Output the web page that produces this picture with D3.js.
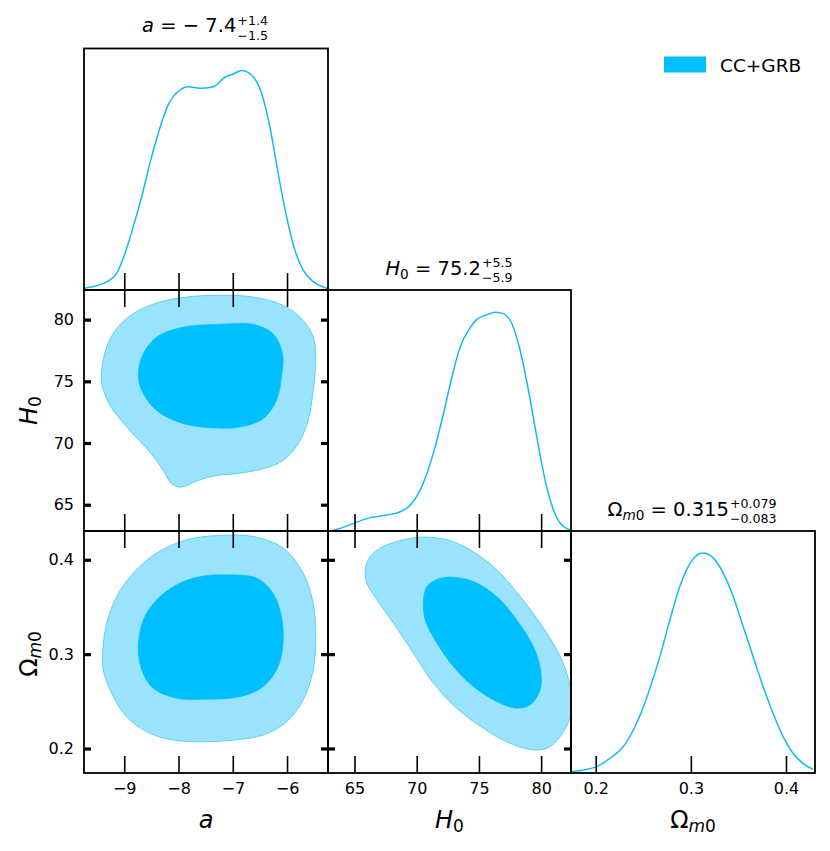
<!DOCTYPE html>
<html><head><meta charset="utf-8">
<script src="https://cdn.jsdelivr.net/npm/d3@7"></script>
<style>
body{margin:0;background:#fff}
svg{display:block}
text{font-family:"DejaVu Sans",sans-serif;fill:#000}
</style>
</head><body>
<svg id="c" width="830" height="851"></svg>
<script>
// ---------------- data ----------------
const seriesName = "CC+GRB";
const aTicks = [-9, -8, -7, -6];
const h0Ticks = [65, 70, 75, 80];
const omTicks = [0.2, 0.3, 0.4];

// 1D marginal of a
const aGrid = [-9.742,-9.387,-9.140,-8.987,-8.834,-8.679,-8.527,-8.374,-8.190,-7.974,-7.821,-7.606,-7.361,-7.145,-6.992,-6.838,-6.654,-6.470,-6.317,-6.164,-6.009,-5.856,-5.703,-5.519,-5.272,-5.245];
const aDens = [0.008,0.030,0.076,0.167,0.288,0.425,0.577,0.714,0.843,0.911,0.926,0.919,0.926,0.969,0.984,1.000,0.979,0.896,0.744,0.532,0.334,0.182,0.091,0.038,0.008,0.005];
// 1D marginal of H0
const h0Grid = [62.89,63.85,64.92,66.26,67.60,68.67,69.48,70.14,70.82,71.48,72.15,72.83,73.49,74.16,74.83,75.64,76.30,76.97,77.65,78.31,78.98,79.65,80.32,80.99,81.66,82.33];
const h0Dens = [0.000,0.012,0.035,0.061,0.073,0.088,0.118,0.172,0.263,0.384,0.536,0.703,0.840,0.916,0.966,0.987,0.999,0.992,0.946,0.825,0.642,0.430,0.232,0.096,0.027,0.005];
// 1D marginal of Omega_m0
const omGrid = [0.1748,0.1870,0.2010,0.2150,0.2290,0.2430,0.2552,0.2675,0.2780,0.2885,0.3007,0.3129,0.3234,0.3339,0.3444,0.3549,0.3654,0.3759,0.3864,0.3969,0.4073,0.4178,0.4283];
const omDens = [0.006,0.014,0.029,0.067,0.120,0.226,0.363,0.530,0.697,0.849,0.963,1.000,0.978,0.910,0.803,0.667,0.530,0.393,0.272,0.165,0.090,0.044,0.017];

// 2D contours: [x, y]
const haOuter = [[-9.416,75.89],[-9.324,77.78],[-9.140,79.27],[-8.834,80.49],[-8.403,81.35],[-7.851,81.83],[-7.238,81.97],[-6.624,81.83],[-6.072,81.16],[-5.703,79.94],[-5.519,78.59],[-5.470,76.97],[-5.519,74.27],[-5.611,71.83],[-5.796,69.94],[-6.072,68.59],[-6.440,67.92],[-6.869,67.56],[-7.298,67.37],[-7.606,67.02],[-7.851,66.56],[-7.974,66.42],[-8.127,66.70],[-8.282,67.78],[-8.527,69.26],[-8.895,71.02],[-9.263,73.05],[-9.416,74.81]];
const haInner = [[-8.742,75.62],[-8.650,77.24],[-8.403,78.59],[-7.913,79.40],[-7.298,79.62],[-6.624,79.62],[-6.256,78.86],[-6.083,77.24],[-6.101,75.34],[-6.193,73.45],[-6.440,71.97],[-6.869,71.29],[-7.298,71.21],[-7.913,71.57],[-8.403,72.64],[-8.680,74.27]];
const oaOuter = [[-9.398,0.3010],[-9.324,0.3328],[-9.140,0.3610],[-8.834,0.3859],[-8.403,0.4071],[-7.851,0.4212],[-7.238,0.4258],[-6.624,0.4247],[-6.072,0.4124],[-5.703,0.3859],[-5.519,0.3540],[-5.470,0.3186],[-5.519,0.2832],[-5.703,0.2514],[-6.009,0.2283],[-6.440,0.2142],[-6.993,0.2089],[-7.606,0.2071],[-8.098,0.2089],[-8.527,0.2160],[-8.956,0.2336],[-9.263,0.2620],[-9.387,0.2832]];
const oaInner = [[-8.742,0.3080],[-8.650,0.3363],[-8.403,0.3575],[-8.035,0.3735],[-7.606,0.3823],[-7.053,0.3841],[-6.562,0.3806],[-6.256,0.3646],[-6.101,0.3398],[-6.072,0.3116],[-6.164,0.2867],[-6.440,0.2655],[-6.869,0.2549],[-7.483,0.2521],[-8.035,0.2532],[-8.466,0.2638],[-8.680,0.2832]];
const ohOuter = [[65.86,0.3894],[66.26,0.4035],[67.33,0.4142],[68.94,0.4212],[70.54,0.4241],[72.42,0.4212],[74.29,0.4106],[76.44,0.3894],[78.31,0.3610],[79.92,0.3328],[81.26,0.3045],[82.06,0.2797],[82.45,0.2549],[82.35,0.2336],[81.52,0.2124],[80.45,0.2001],[79.11,0.1990],[77.24,0.2071],[75.36,0.2213],[73.22,0.2426],[71.35,0.2691],[69.74,0.3010],[68.13,0.3328],[66.80,0.3575],[66.00,0.3753]];
const ohInner = [[70.54,0.3575],[70.82,0.3717],[71.75,0.3798],[72.95,0.3816],[74.56,0.3770],[76.44,0.3610],[78.04,0.3363],[79.38,0.3080],[79.97,0.2832],[79.92,0.2620],[79.11,0.2461],[78.04,0.2426],[76.44,0.2496],[74.56,0.2655],[72.95,0.2867],[71.62,0.3116],[70.68,0.3363]];

// ---------------- layout / style ----------------
const colX = [[84, 328], [328, 571], [571, 815]];
const rowY = [[48.5, 290], [290, 531], [531, 773]];
const darkC = "#00bfff", lightC = "#99e3fc", edgeC = "#62cff7", lineC = "#10baf5";

const params = [
  {domain: [-9.742, -5.245], ticks: aTicks, fmt: d3.format("d")},
  {domain: [62.87, 82.40], ticks: h0Ticks, fmt: d3.format("d")},
  {domain: [0.174, 0.4305], ticks: omTicks, fmt: d3.format(".1f")}
];
const oneD = [[aGrid, aDens], [h0Grid, h0Dens], [omGrid, omDens]];
const twoD = {"1-0": [haOuter, haInner], "2-0": [oaOuter, oaInner], "2-1": [ohOuter, ohInner]};

const svg = d3.select("#c");
const xs = params.map((p, i) => d3.scaleLinear().domain(p.domain).range(colX[i]));
const ys = params.map((p, j) => d3.scaleLinear().domain(p.domain).range([rowY[j][1], rowY[j][0]]));

function styleXTicks(g) {
  g.select(".domain").remove();
  g.selectAll(".tick line").attr("stroke", "#000").attr("stroke-width", 1.6);
  g.selectAll(".tick text").attr("font-size", 16).attr("font-family", "DejaVu Sans");
}
function styleYTicks(g) {
  g.select(".domain").remove();
  g.selectAll(".tick line").attr("stroke", "#000").attr("stroke-width", 3.2);
  g.selectAll(".tick text").attr("font-size", 16).attr("font-family", "DejaVu Sans");
}

let clipId = 0;
for (let j = 0; j < 3; j++) {
  for (let i = 0; i <= j; i++) {
    const x = xs[i];
    const [x0, x1] = colX[i], [y0, y1] = rowY[j];
    const id = "clip" + (clipId++);
    svg.append("clipPath").attr("id", id).append("rect")
      .attr("x", x0).attr("y", y0).attr("width", x1 - x0).attr("height", y1 - y0);
    const body = svg.append("g").attr("clip-path", `url(#${id})`);
    if (i === j) {
      const yd = d3.scaleLinear().domain([0, 1.1]).range([y1, y0]);
      const [gx, gd] = oneD[i];
      const pts = gx.map((v, k) => [v, gd[k]]);
      body.append("path").datum(pts)
        .attr("d", d3.line().x(d => x(d[0])).y(d => yd(d[1])).curve(d3.curveMonotoneX))
        .attr("fill", "none").attr("stroke", lineC).attr("stroke-width", 1.5);
      const bot = svg.append("g").attr("transform", `translate(0,${y1})`)
        .call(d3.axisBottom(x).tickValues(params[i].ticks).tickSize(-17).tickPadding(9.5)
          .tickFormat(j === 2 ? params[i].fmt : ""));
      styleXTicks(bot);
    } else {
      const y = ys[j];
      const [outer, inner] = twoD[`${j}-${i}`];
      const line = d3.line().x(d => x(d[0])).y(d => y(d[1])).curve(d3.curveCatmullRomClosed.alpha(0.5));
      body.append("path").datum(outer).attr("d", line)
        .attr("fill", lightC).attr("stroke", edgeC).attr("stroke-width", 1);
      body.append("path").datum(inner).attr("d", line)
        .attr("fill", darkC).attr("stroke", darkC).attr("stroke-width", 0.5);
      const bot = svg.append("g").attr("transform", `translate(0,${y1})`)
        .call(d3.axisBottom(x).tickValues(params[i].ticks).tickSize(-17).tickPadding(9.5)
          .tickFormat(j === 2 ? params[i].fmt : ""));
      styleXTicks(bot);
      const top = svg.append("g").attr("transform", `translate(0,${y0})`)
        .call(d3.axisTop(x).tickValues(params[i].ticks).tickSize(-17).tickFormat(""));
      styleXTicks(top);
      const left = svg.append("g").attr("transform", `translate(${x0},0)`)
        .call(d3.axisLeft(y).tickValues(params[j].ticks).tickSize(-7).tickPadding(10)
          .tickFormat(i === 0 ? params[j].fmt : ""));
      styleYTicks(left);
      const right = svg.append("g").attr("transform", `translate(${x1},0)`)
        .call(d3.axisRight(y).tickValues(params[j].ticks).tickSize(-7).tickFormat(""));
      styleYTicks(right);
    }
    svg.append("rect").attr("x", x0).attr("y", y0).attr("width", x1 - x0).attr("height", y1 - y0)
      .attr("fill", "none").attr("stroke", "#000").attr("stroke-width", 1.8);
  }
}

// ---------------- titles ----------------
function mathTitle(cx, by, parts, sup, sub, size) {
  const g = svg.append("g");
  const t = g.append("text").attr("x", 0).attr("y", by).attr("font-size", size);
  parts.forEach(p => {
    const ts = t.append("tspan").text(p.t);
    if (p.i) ts.attr("font-style", "italic");
    if (p.s) ts.attr("font-size", size * 0.7);
    if (p.dy) ts.attr("dy", p.dy);
  });
  const w = t.node().getComputedTextLength();
  const ss = 12.6;
  const tp = g.append("text").attr("x", w + 1).attr("y", by - 7.4).attr("font-size", ss).text(sup);
  const tb = g.append("text").attr("x", w + 1).attr("y", by + 7.6).attr("font-size", ss).text(sub);
  const tw = w + 1 + Math.max(tp.node().getComputedTextLength(), tb.node().getComputedTextLength());
  g.attr("transform", `translate(${cx - tw / 2},0)`);
}
mathTitle(205, 32, [{t: "a", i: true}, {t: " = − 7.4"}], "+1.4", "−1.5", 19.5);
mathTitle(449, 274.5, [{t: "H", i: true}, {t: "0", s: true, dy: 4}, {t: " = 75.2", dy: -4}], "+5.5", "−5.9", 19.5);
mathTitle(692, 515.5, [{t: "Ω"}, {t: "m", s: true, i: true, dy: 4}, {t: "0", s: true}, {t: " = 0.315", dy: -4}], "+0.079", "−0.083", 19.5);

// ---------------- axis labels ----------------
function axisLabel(x, y, rot, parts) {
  const t = svg.append("text").attr("text-anchor", "middle").attr("font-size", 24)
    .attr("transform", `translate(${x},${y}) rotate(${rot})`);
  parts.forEach(p => {
    const ts = t.append("tspan").text(p.t);
    if (p.i) ts.attr("font-style", "italic");
    if (p.s) ts.attr("font-size", 17);
    if (p.dy) ts.attr("dy", p.dy);
  });
}
axisLabel(206, 828, 0, [{t: "a", i: true}]);
axisLabel(449.5, 828, 0, [{t: "H", i: true}, {t: "0", s: true, dy: 4}]);
axisLabel(693, 828, 0, [{t: "Ω"}, {t: "m", s: true, i: true, dy: 4}, {t: "0", s: true}]);
axisLabel(37, 410.5, -90, [{t: "H", i: true}, {t: "0", s: true, dy: 4}]);
axisLabel(37, 654, -90, [{t: "Ω"}, {t: "m", s: true, i: true, dy: 4}, {t: "0", s: true}]);

// ---------------- legend ----------------
const leg = svg.append("g");
leg.append("rect").attr("x", 664).attr("y", 56.5).attr("width", 42).attr("height", 16).attr("fill", darkC);
leg.append("text").attr("x", 720).attr("y", 71.5).attr("font-size", 18.5).text(seriesName);
</script>
</body></html>
